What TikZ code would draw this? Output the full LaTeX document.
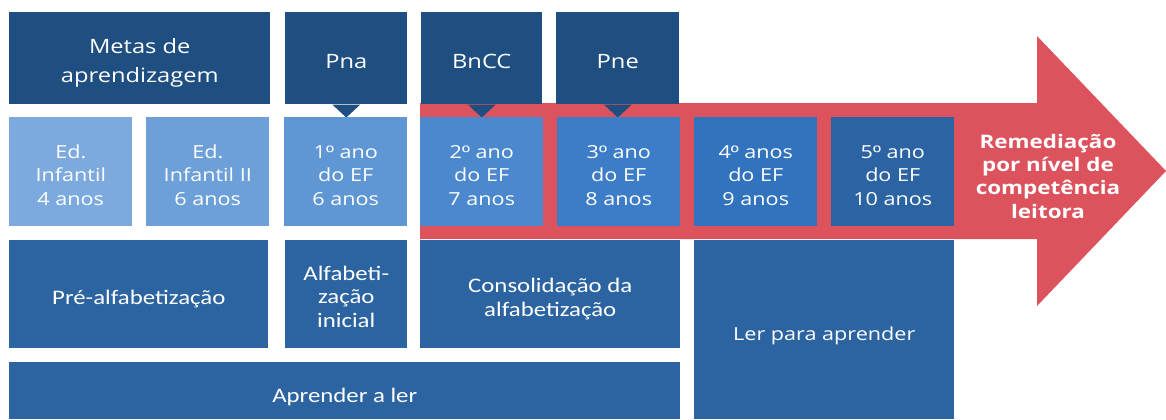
\documentclass[tikz,border=0pt]{standalone}
\usepackage{fontspec}
\setmainfont{Open Sans}[FakeStretch=1.2]
\newfontfamily\calfont{Carlito}[FakeStretch=1.2]
\newfontfamily\ordfont{Liberation Sans}[FakeStretch=1.2]
\newcommand\ordm{{\ordfont º}}
\usepackage{tikz}
\definecolor{navy}{RGB}{31,78,128}
\definecolor{edA}{RGB}{125,170,222}
\definecolor{edB}{RGB}{109,160,216}
\definecolor{anoA}{RGB}{95,150,212}
\definecolor{anoB}{RGB}{75,136,205}
\definecolor{anoC}{RGB}{61,125,200}
\definecolor{anoD}{RGB}{50,115,190}
\definecolor{anoE}{RGB}{43,99,163}
\definecolor{fase}{RGB}{44,99,161}
\definecolor{remred}{RGB}{220,83,94}

\begin{document}
\begin{tikzpicture}[x=0.75pt,y=-0.75pt,
	cell/.style 2 args={anchor=north west,inner sep=0pt,text=white,align=center,
		minimum width=#1*0.75pt,minimum height=#2*0.75pt,
		font=\fontsize{13.5}{17.6}\selectfont},
	drop/.style={text height=#1,text depth=0pt},
	big/.style={font=\fontsize{14.8}{21.75}\selectfont},
	cal/.style={font=\calfont\fontsize{15.5}{17.6}\selectfont}]
	\useasboundingbox (0,0) rectangle (1166,419);
	
	% seta
	\fill[remred] (420,103) -- (1037,103) -- (1037,36) -- (1166,171)
		-- (1037,306) -- (1037,239) -- (420,239) -- cycle;
	\node[text=white,align=center,font=\bfseries\fontsize{14}{17.5}\selectfont]
		(rem) at (1048,176) {Remediação\\por nível de\\competência\\leitora};
	
	% metas
	\node[cell={261}{92},fill=navy,big,drop=36pt] (metas) at (9,12) {Metas de\\aprendizagem};
	\node[cell={122}{92},fill=navy,big,drop=15pt] (pna) at (285,12) {Pna};
	\node[cell={121}{92},fill=navy,big,drop=15pt] (bncc) at (421,12) {BnCC};
	\node[cell={123}{92},fill=navy,big,drop=15pt] (pne) at (556,12) {Pne};
	\foreach \n in {pna,bncc,pne}
		\fill[navy] (\n.south) ++(-14,0) -- ++(28,0) -- ++(-14,13) -- cycle;
	
	% anos
	\node[cell={123}{109},fill=edA,drop=50pt] (ed1) at (9,117) {Ed.\\Infantil\\4 anos};
	\node[cell={123}{109},fill=edB,drop=50pt] (ed2) at (146,117) {Ed.\\Infantil II\\6 anos};
	\node[cell={123}{109},fill=anoA,drop=50pt] (ano1) at (284,117) {1\ordm{} ano\\do EF\\6 anos};
	\node[cell={123}{109},fill=anoB,drop=50pt] (ano2) at (420,117) {2\ordm{} ano\\do EF\\7 anos};
	\node[cell={123}{109},fill=anoC,drop=50pt] (ano3) at (557,117) {3\ordm{} ano\\do EF\\8 anos};
	\node[cell={123}{109},fill=anoD,drop=50pt] (ano4) at (694,117) {4\ordm{} anos\\do EF\\9 anos};
	\node[cell={123}{109},fill=anoE,drop=50pt] (ano5) at (831,117) {5\ordm{} ano\\do EF\\10 anos};
	
	% fases
	\node[cell={259}{108},fill=fase,cal,drop=15pt] (pre) at (9,240) {Pré-alfabetização};
	\node[cell={122}{108},fill=fase,cal,drop=49.5pt] (alfa) at (285,240) {Alfabeti-\\zação\\inicial};
	\node[cell={260}{108},fill=fase,cal,drop=33pt] (cons) at (420,240) {Consolidação da\\alfabetização};
	\node[cell={260}{179},fill=fase,drop=16.8pt] (lpa) at (694,240) {Ler para aprender};
	\node[cell={671}{57},fill=fase,cal,drop=18pt] (apl) at (9,362) {Aprender a ler};
\end{tikzpicture}
\end{document}
